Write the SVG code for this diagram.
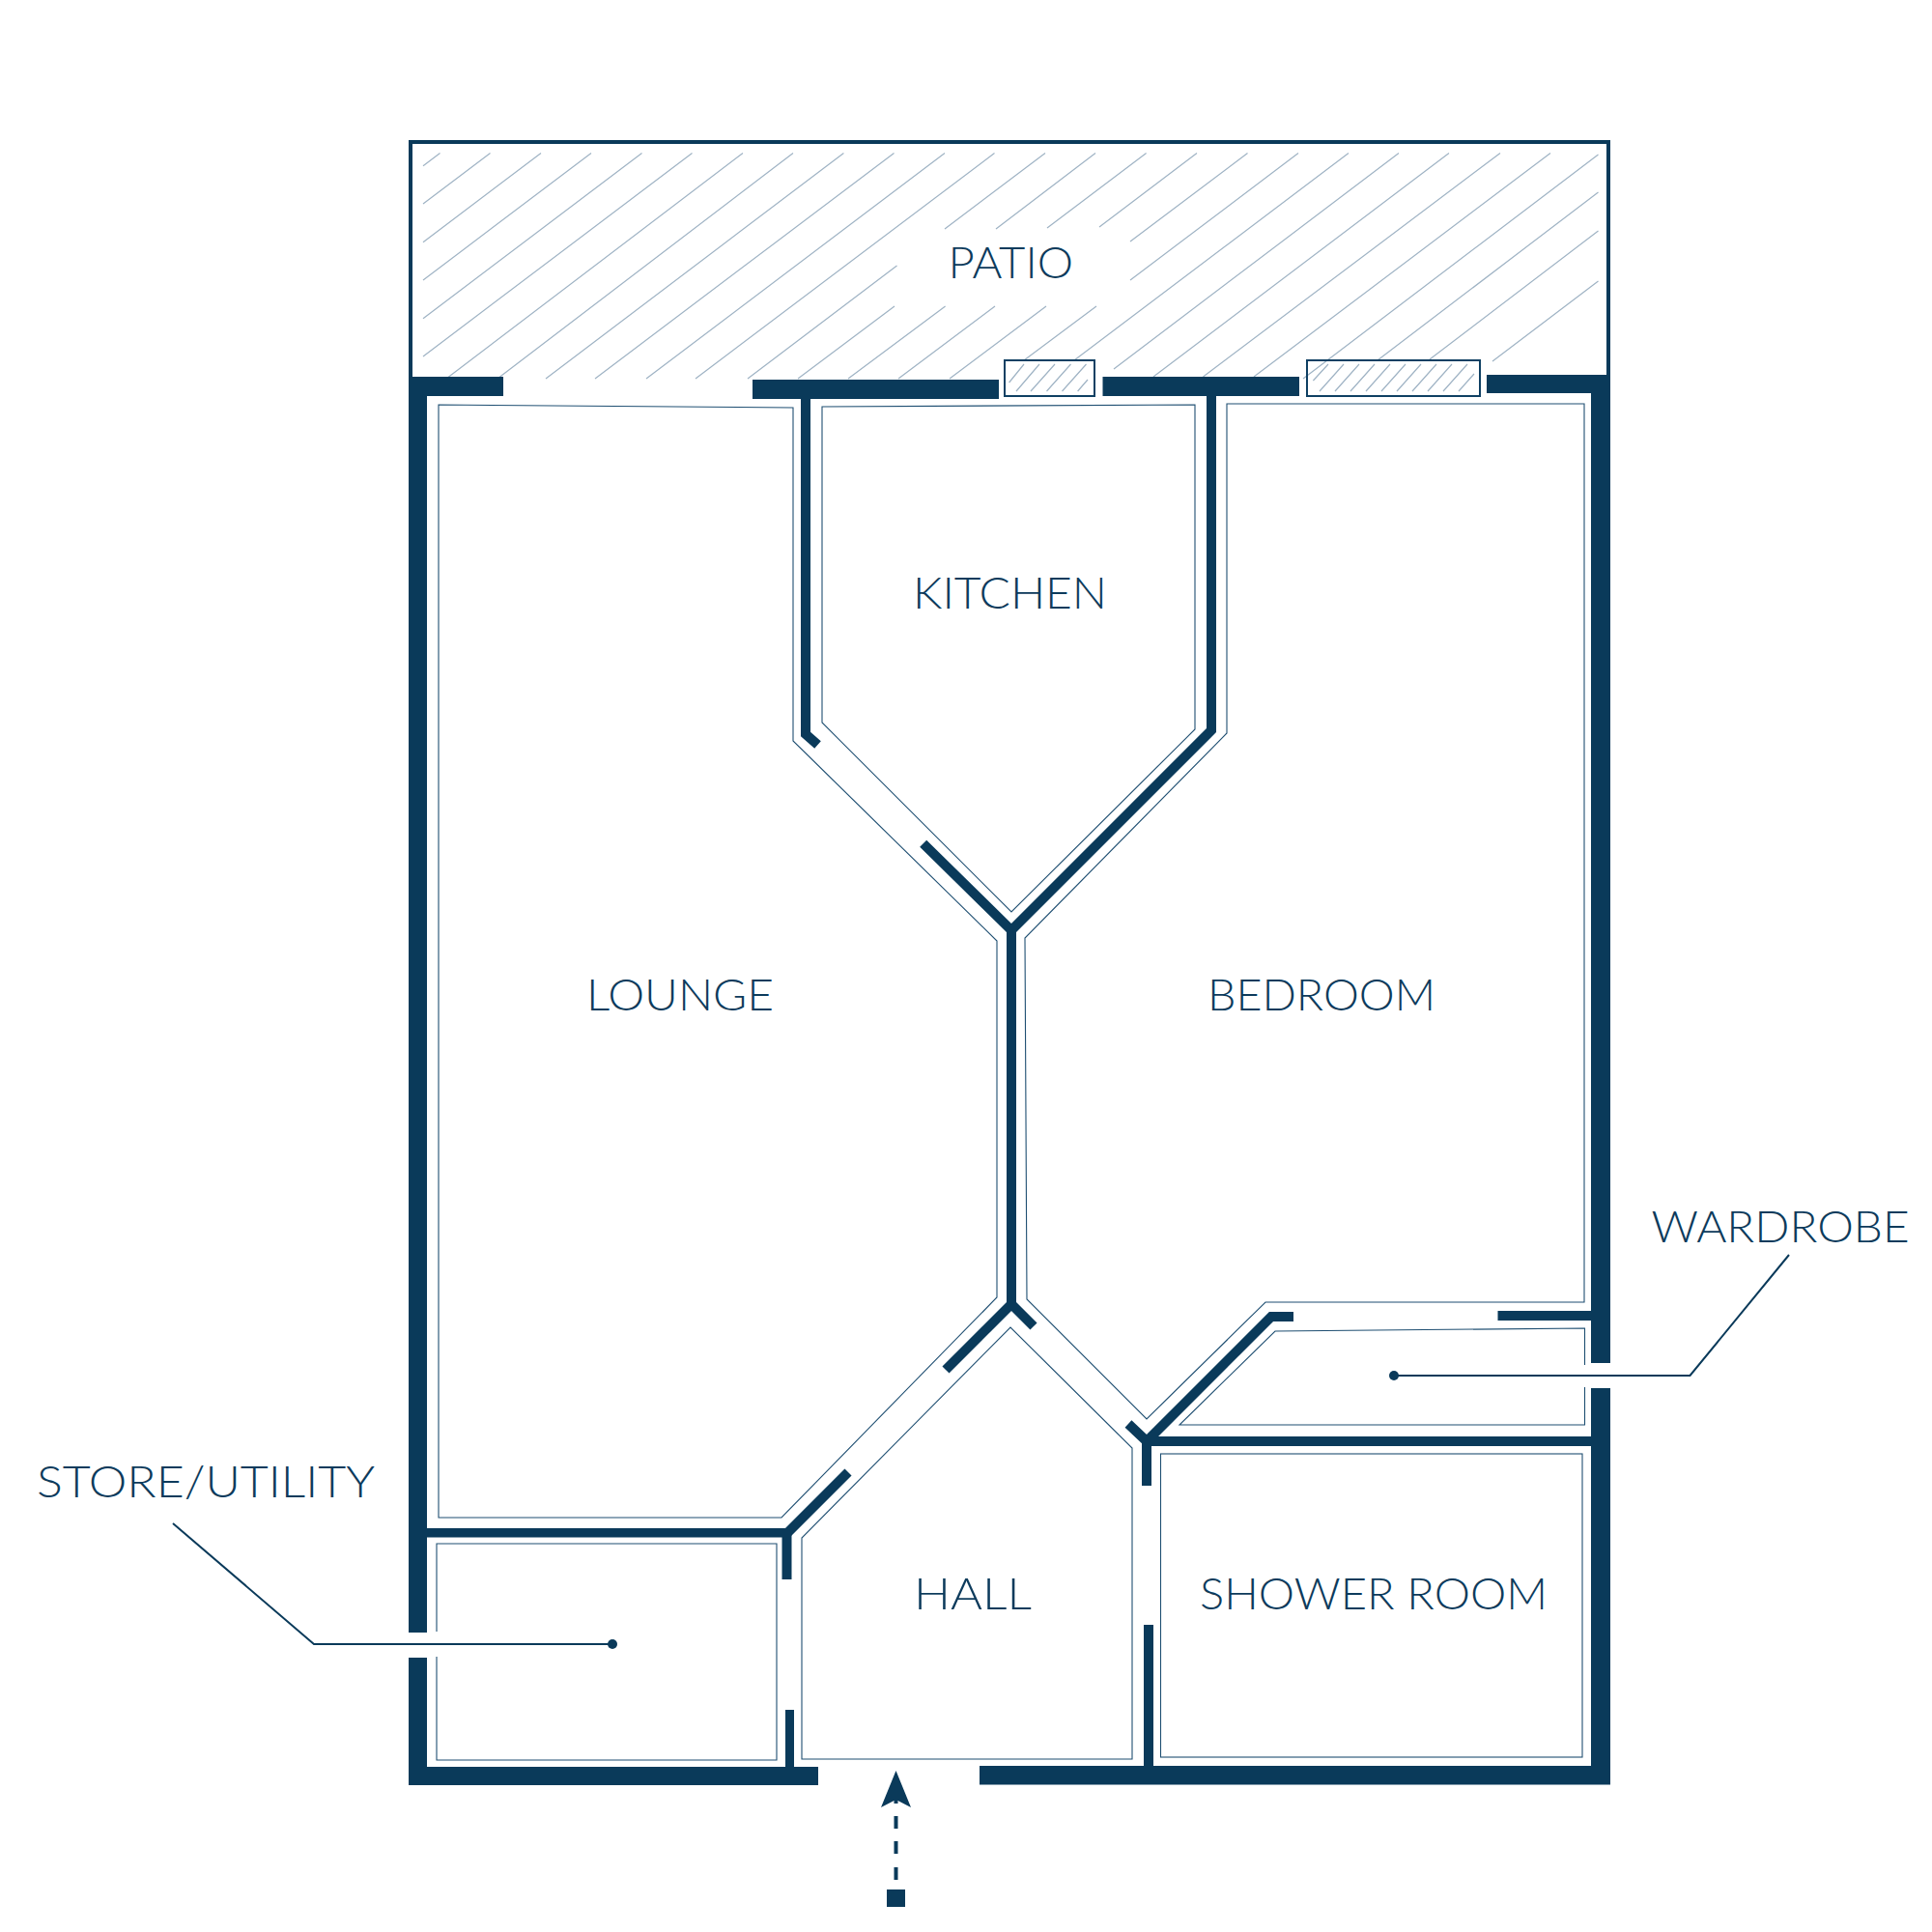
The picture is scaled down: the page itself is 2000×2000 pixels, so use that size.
<svg xmlns="http://www.w3.org/2000/svg" width="2000" height="2000" viewBox="0 0 2000 2000">
<style>
.wall{fill:#0a3a5a}
.sw{fill:none;stroke:#0a3a5a;stroke-width:10;stroke-linejoin:miter;stroke-linecap:butt}
.room{fill:none;stroke:#1f4f72;stroke-width:1.1}
.hatch{fill:none;stroke:#9fb3c4;stroke-width:1.2}
.lead{fill:none;stroke:#0a3a5a;stroke-width:2}
.lbl{font-family:"Lato","Liberation Sans",sans-serif;font-weight:300;font-size:46px;fill:#0d3b5c}
</style>
<rect width="2000" height="2000" fill="#ffffff"/>
<g id="patio">
<path class="hatch" d="M438 171.7L455.5 158.5M438 211L507.5 158.5M438 250.7L560 158.5M438 290L612 158.5M438 329.7L664.5 158.5M438 369L716.5 158.5M462 392L769 158.5M515 392L821 158.5M565 392L873.4 158.5M616 392L925.5 158.5M669 392L978 158.5M720 392L1029.5 158.5M774 392L928.5 275M826 392L926 317M878 392L978.6 317M930 392L1030 317M983 392L1083 317M1060 373L1135 317M978 237L1082 158.5M1031 237L1134 158.5M1084 236L1186.6 158.5M1138 235L1239 158.5M1170 250L1291.5 158.5M1170 290L1344 158.5M1112 373L1396 158.5M1153 382L1448 158.5M1194 390L1500 158.5M1245.5 390L1553 158.5M1298 390L1605 158.5M1349 392L1654.5 160M1426 373L1654.5 199M1480 372L1654.5 239M1545 374L1654.5 291"/>
<path d="M425 392V147H1665V392" fill="none" stroke="#0a3a5a" stroke-width="4"/>
<text class="lbl" x="981.500" y="287.500" textLength="129.500" lengthAdjust="spacingAndGlyphs">PATIO</text>
</g>
<g id="windows">
<path class="hatch" d="M1044.6 396L1060 377M1052 405L1076 377M1067 405L1092 377M1083.5 405L1108.5 377M1099.5 405L1124.5 377M1115.6 405L1126 393M1359.4 394L1375 377M1366 405L1391 377M1382 405L1407 377M1398 405L1423 377M1414 405L1439 377M1430 405L1455 377M1446 405L1471 377M1462 405L1487 377M1478 405L1503 377M1494 405L1519 377M1510 405L1526 387"/>
<rect x="1040" y="373" width="93" height="37" fill="none" stroke="#0f4063" stroke-width="2"/>
<rect x="1353" y="373" width="179" height="37" fill="none" stroke="#0f4063" stroke-width="2"/>
</g>
<g id="walls">
<path class="wall" d="M423 390H521V410H442V1690H423Z"/>
<path class="wall" d="M423 1716H442V1829H847V1848H423Z"/>
<rect class="wall" x="779" y="393" width="255" height="20"/>
<rect class="wall" x="1141.5" y="390" width="203.5" height="20"/>
<path class="wall" d="M1539 388H1667V1411H1647V407H1539Z"/>
<path class="wall" d="M1647 1437H1667V1847.500H1014V1828H1647Z"/>
<rect class="wall" x="1550.500" y="1357" width="97" height="10"/>
<rect class="wall" x="442" y="1582" width="372" height="9.500"/>
<path class="sw" d="M834 412V760L846.500 771"/>
<path class="sw" d="M955.700 873.300L1047 963L1254 756V409"/>
<path class="sw" d="M1047 958V1350"/>
<path class="sw" d="M979 1418L1047 1350L1070 1373"/>
<path class="sw" d="M878 1524L814 1588"/>
<path class="sw" d="M814.500 1584V1635"/>
<path class="wall" d="M813 1770H822V1830H813Z"/>
<rect class="wall" x="1184" y="1682" width="10" height="147"/>
<path class="sw" d="M1168 1474L1187 1492L1316 1363H1339"/>
<path class="sw" d="M1187 1490V1538"/>
<rect class="wall" x="1185" y="1487" width="463" height="10"/>
</g>
<g id="lounge">
<path class="room" d="M454 419L821 422V767L1032 974V1343L809 1571H454Z"/>
<text class="lbl" x="607" y="1046" textLength="194" lengthAdjust="spacingAndGlyphs">LOUNGE</text>
</g>
<g id="kitchen">
<path class="room" d="M851 421L1237 419V755L1047 944L851 748Z"/>
<text class="lbl" x="945" y="630" textLength="201" lengthAdjust="spacingAndGlyphs">KITCHEN</text>
</g>
<g id="bedroom">
<path class="room" d="M1270 418H1640V1348H1310L1187 1469L1063 1345L1061 971L1270 759Z"/>
<text class="lbl" x="1250" y="1045.500" textLength="236" lengthAdjust="spacingAndGlyphs">BEDROOM</text>
</g>
<g id="wardrobe">
<path class="room" d="M1640.500 1413V1375L1320 1378L1221 1475H1640.500V1436"/>
<text class="lbl" x="1709.500" y="1286" textLength="267" lengthAdjust="spacingAndGlyphs">WARDROBE</text>
</g>
<g id="shower-room">
<rect class="room" x="1201.500" y="1505" width="436.500" height="314"/>
<text class="lbl" x="1242" y="1666" textLength="360" lengthAdjust="spacingAndGlyphs">SHOWER ROOM</text>
</g>
<g id="hall">
<path class="room" d="M830 1821V1592L1046 1374L1172 1499V1821Z"/>
<text class="lbl" x="946" y="1666" textLength="122" lengthAdjust="spacingAndGlyphs">HALL</text>
</g>
<g id="store-utility">
<path class="room" d="M452 1689V1598H804V1822H452V1715"/>
<text class="lbl" x="38" y="1550" textLength="350" lengthAdjust="spacingAndGlyphs">STORE/UTILITY</text>
</g>
<g id="connectors">
<path class="lead" d="M179 1577L325 1702H634"/>
<circle cx="634" cy="1702" r="5" fill="#0a3a5a"/>
<path class="lead" d="M1852 1299L1749.500 1424H1443"/>
<circle cx="1443" cy="1424" r="5" fill="#0a3a5a"/>
<path d="M927.500 1833L943 1871L927.500 1863L912 1871Z" fill="#0a3a5a"/>
<path d="M927.500 1860V1867M927.500 1880V1893M927.500 1906V1919M927.500 1933V1946" fill="none" stroke="#0a3a5a" stroke-width="4"/>
<rect x="918" y="1956" width="19" height="18" fill="#0a3a5a"/>
</g>
</svg>
